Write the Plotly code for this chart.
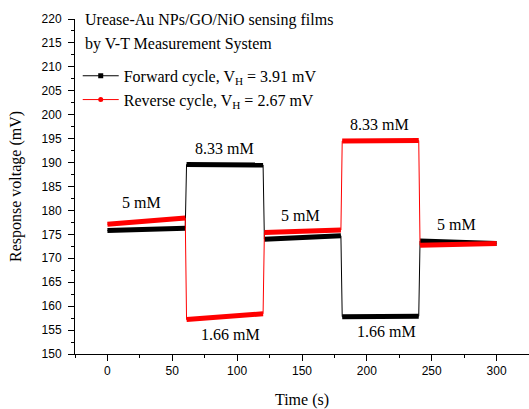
import plotly.graph_objects as go

# ---- data ----
time_s = [0, 30, 60, 61, 90, 120, 121, 150, 180, 181, 210, 240, 241, 270, 300]
forward_mv = [175.8, 176.0, 176.3, 189.6, 189.6, 189.5, 174.0, 174.4, 174.7,
              157.8, 157.9, 157.9, 173.6, 173.3, 173.1]
reverse_mv = [177.1, 177.7, 178.4, 157.2, 157.8, 158.4, 175.4, 175.6, 175.9,
              194.5, 194.6, 194.6, 172.7, 172.9, 173.1]

label_text = ["5 mM", "8.33 mM", "1.66 mM", "5 mM", "8.33 mM", "1.66 mM", "5 mM"]
label_x = [26, 90, 95, 149, 210, 215, 269]
label_y = [181.7, 192.9, 154.0, 178.9, 197.9, 154.6, 177.0]

forward_name = "Forward cycle, V<sub>H</sub> = 3.91 mV"
reverse_name = "Reverse cycle, V<sub>H</sub> = 2.67 mV"

SERIF = "Liberation Serif, Times New Roman, serif"
SANS = "Liberation Sans, Arial, sans-serif"


def plateaus(x, y, jump=5.0):
    """Split a stepped series into plateau pieces separated by None (no new values)."""
    xs, ys = [x[0]], [y[0]]
    for i in range(1, len(x)):
        if abs(y[i] - y[i - 1]) > jump:
            xs.append(None)
            ys.append(None)
        xs.append(x[i])
        ys.append(y[i])
    return xs, ys


fig = go.Figure()

for vals, color, name, sym in [(forward_mv, "black", forward_name, "square"),
                               (reverse_mv, "#ff0000", reverse_name, "circle")]:
    fig.add_trace(go.Scatter(x=time_s, y=vals, mode="lines",
                             line=dict(color=color, width=1),
                             showlegend=False, hoverinfo="skip"))
    px, py = plateaus(time_s, vals)
    fig.add_trace(go.Scatter(x=px, y=py, mode="lines",
                             line=dict(color=color, width=5),
                             connectgaps=False, showlegend=False))
    fig.add_trace(go.Scatter(x=[None], y=[None], mode="lines+markers",
                             line=dict(color=color, width=1),
                             marker=dict(symbol=sym, size=5, color=color),
                             name=name, showlegend=True))

for t, xx, yy in zip(label_text, label_x, label_y):
    fig.add_annotation(x=xx, y=yy, text=t, showarrow=False,
                       xanchor="center", yanchor="middle",
                       font=dict(family=SERIF, size=16, color="black"))

fig.add_annotation(xref="paper", yref="paper", x=0.0176, y=0.997,
                   text="Urease-Au NPs/GO/NiO sensing films", showarrow=False,
                   xanchor="left", yanchor="middle",
                   font=dict(family=SERIF, size=16, color="black"))
fig.add_annotation(xref="paper", yref="paper", x=0.0176, y=0.925,
                   text="by V-T Measurement System", showarrow=False,
                   xanchor="left", yanchor="middle",
                   font=dict(family=SERIF, size=16, color="black"))

fig.update_layout(
    width=529, height=409,
    margin=dict(l=75, r=0, t=19, b=55),
    paper_bgcolor="white", plot_bgcolor="white",
    showlegend=True,
    legend=dict(x=0.006, y=0.881, xanchor="left", yanchor="top",
                bgcolor="rgba(0,0,0,0)", borderwidth=0,
                font=dict(family=SERIF, size=16, color="black"),
                itemwidth=36, tracegroupgap=0),
)

fig.update_xaxes(
    range=[-25, 325], showgrid=False, zeroline=False,
    showline=True, linecolor="black", linewidth=1,
    ticks="outside", ticklen=6, tickwidth=1, tickcolor="black",
    tick0=0, dtick=50,
    minor=dict(ticks="outside", ticklen=3, tickcolor="black", dtick=25, tick0=0),
    tickfont=dict(family=SANS, size=12, color="black"),
    title=dict(text="Time (s)", font=dict(family=SERIF, size=16, color="black"), standoff=19),
)
fig.update_yaxes(
    range=[150, 220], showgrid=False, zeroline=False,
    showline=True, linecolor="black", linewidth=1,
    ticks="outside", ticklen=6, tickwidth=1, tickcolor="black",
    tick0=150, dtick=5, ticklabelstandoff=4,
    minor=dict(ticks="outside", ticklen=3, tickcolor="black", dtick=2.5, tick0=150),
    tickfont=dict(family=SANS, size=12, color="black"),
    title=dict(text="Response voltage (mV)", font=dict(family=SERIF, size=16, color="black"), standoff=15),
)

fig.write_html("out.html")
